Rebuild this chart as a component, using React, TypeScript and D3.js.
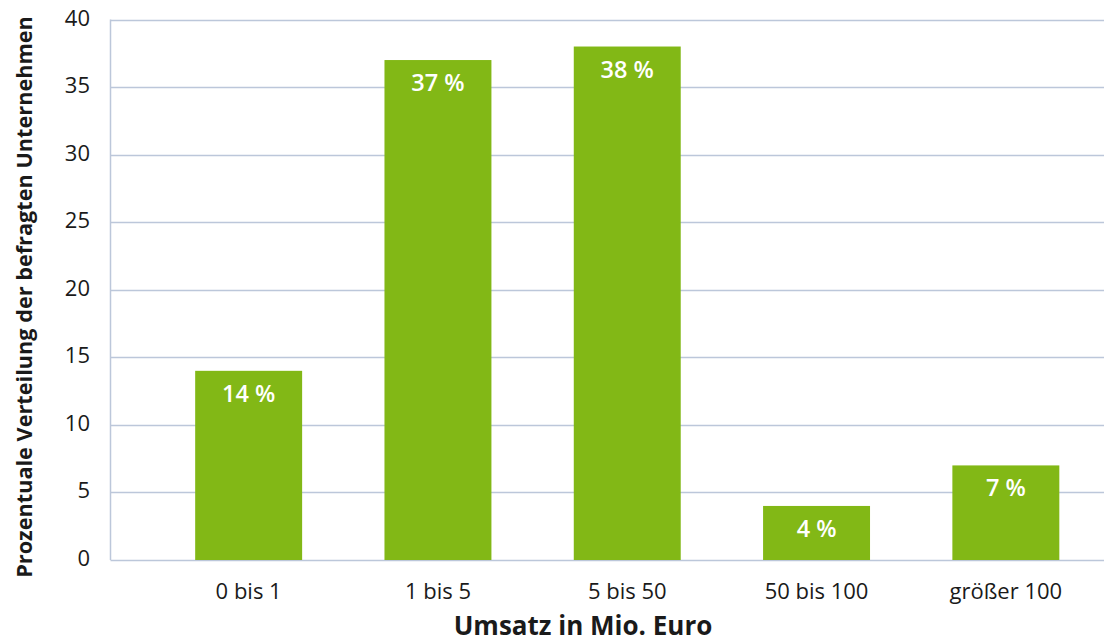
import React from "react";
import * as d3 from "d3";

const categories = ["0 bis 1", "1 bis 5", "5 bis 50", "50 bis 100", "größer 100"];
const shares = [14, 37, 38, 4, 7];
const yTicks = [0, 5, 10, 15, 20, 25, 30, 35, 40];

const W = 1104;
const H = 642;
const plotLeft = 110.5;
const plotRight = 1104;
const plotTop = 19.5;
const plotBottom = 560;

const FONT = "'Open Sans', 'Noto Sans', sans-serif";
const GRID = "#bcc7da";
const BAR = "#82b816";
const INK = "#1a1a1a";

export default function App() {
  const y = d3.scaleLinear().domain([0, 40]).range([plotBottom, plotTop]);
  const x = d3
    .scaleBand<string>()
    .domain(categories)
    .range([154, 1100.5])
    .paddingInner(0.435)
    .paddingOuter(0.2175);

  return (
    <svg
      width={W}
      height={H}
      style={{ position: "absolute", left: 0, top: 0, background: "#fff" }}
    >
      {yTicks.map((t) => (
        <g key={t}>
          <line
            x1={plotLeft}
            x2={plotRight}
            y1={Math.round(y(t)) + 0.5}
            y2={Math.round(y(t)) + 0.5}
            stroke={GRID}
            strokeWidth={1.5}
          />
          <text
            x={90}
            y={y(t) + 6}
            textAnchor="end"
            fontFamily={FONT}
            fontSize={22}
            fill={INK}
          >
            {t}
          </text>
        </g>
      ))}
      <line
        x1={plotLeft}
        x2={plotLeft}
        y1={plotTop}
        y2={plotBottom}
        stroke={GRID}
        strokeWidth={1.5}
      />
      {categories.map((c, i) => (
        <g key={c}>
          <rect
            x={x(c)}
            y={y(shares[i])}
            width={x.bandwidth()}
            height={plotBottom - y(shares[i])}
            fill={BAR}
          />
          <text
            x={(x(c) ?? 0) + x.bandwidth() / 2}
            y={y(shares[i]) + 31}
            textAnchor="middle"
            fontFamily={FONT}
            fontSize={23.5}
            fontWeight={600}
            fill="#fff"
          >
            {`${shares[i]} %`}
          </text>
          <text
            x={(x(c) ?? 0) + x.bandwidth() / 2}
            y={599}
            textAnchor="middle"
            fontFamily={FONT}
            fontSize={22}
            fill={INK}
          >
            {c}
          </text>
        </g>
      ))}
      <text
        x={583}
        y={635}
        textAnchor="middle"
        fontFamily={FONT}
        fontSize={26}
        fontWeight={700}
        fill={INK}
      >
        Umsatz in Mio. Euro
      </text>
      <text
        transform={`translate(32, 297) rotate(-90)`}
        textAnchor="middle"
        fontFamily={FONT}
        fontSize={21.7}
        fontWeight={700}
        fill={INK}
      >
        Prozentuale Verteilung der befragten Unternehmen
      </text>
    </svg>
  );
}
